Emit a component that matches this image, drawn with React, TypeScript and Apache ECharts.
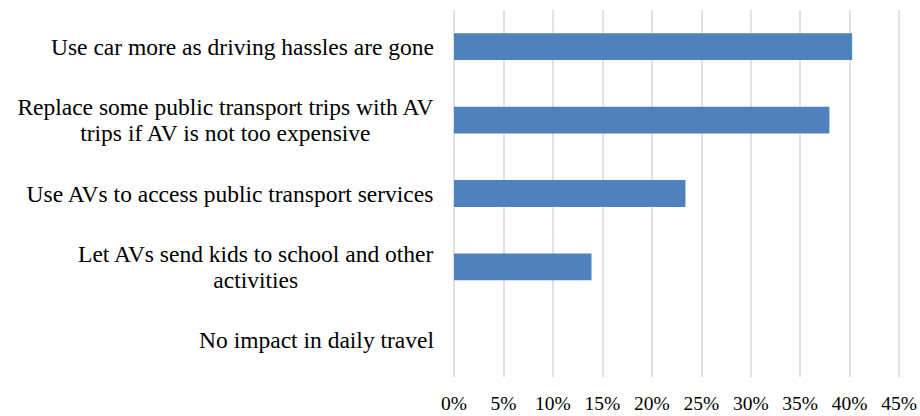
import React, { useEffect, useRef } from "react";
import * as echarts from "echarts";

const categories: string[] = [
  "Use car more as driving hassles are gone",
  "Replace some public transport trips with AV\ntrips if AV is not too expensive",
  "Use AVs to access public transport services",
  "Let AVs send kids to school and other\nactivities",
  "No impact in daily travel",
];
const values: number[] = [40.25, 37.95, 23.4, 13.9, 0];
const xTicks = { min: 0, max: 45, interval: 5 };

const FONT = "'Liberation Serif', 'Times New Roman', serif";

export default function App() {
  const ref = useRef<HTMLDivElement>(null);
  useEffect(() => {
    document.body.style.margin = "0";
    if (!ref.current) return;
    const chart = echarts.init(ref.current, undefined, { renderer: "svg" });
    chart.setOption({
      animation: false,
      grid: { left: 454, right: 20.5, top: 10, bottom: 39, containLabel: false },
      xAxis: {
        type: "value",
        min: xTicks.min,
        max: xTicks.max,
        interval: xTicks.interval,
        axisLine: { show: false },
        axisTick: { show: false },
        splitLine: { show: true, lineStyle: { color: "#d9d9d9", width: 1.5 } },
        axisLabel: {
          formatter: "{value}%",
          color: "#000",
          fontFamily: FONT,
          fontSize: 19.5,
          margin: 16,
        },
      },
      yAxis: {
        type: "category",
        inverse: true,
        data: categories,
        axisLine: { show: false },
        axisTick: { show: false },
        splitLine: { show: false },
        axisLabel: {
          margin: 20,
          align: "right",
          color: "#000",
          fontFamily: FONT,
          fontSize: 23.5,
          lineHeight: 26,
          formatter: (v: string) =>
            v
              .split("\n")
              .map((l) => "{c|" + l + "}")
              .join("\n"),
          rich: {
            c: {
              align: "center",
              color: "#000",
              fontFamily: FONT,
              fontSize: 23.5,
              lineHeight: 26,
            },
          },
        },
      },
      series: [
        {
          type: "bar",
          data: values,
          barWidth: "36.5%",
          itemStyle: { color: "#4f81bd" },
        },
      ],
    });
    return () => chart.dispose();
  }, []);
  return <div ref={ref} style={{ width: 920, height: 416 }} />;
}
